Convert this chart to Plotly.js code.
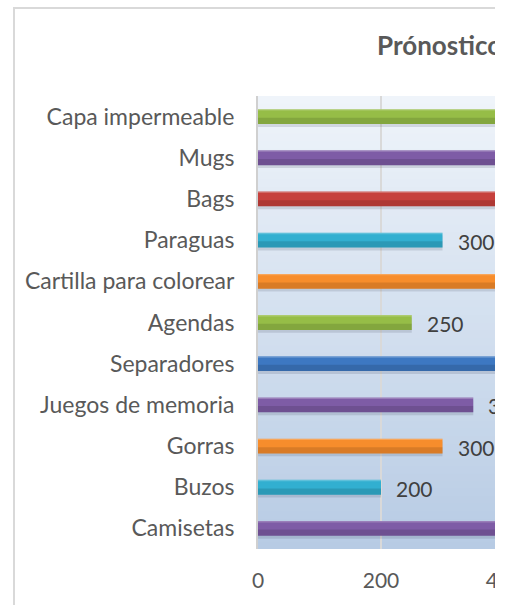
<!DOCTYPE html>
<html>
<head>
<meta charset="utf-8">
<script src="https://cdn.plot.ly/plotly-3.0.1.min.js"></script>
<style>
  html, body { margin: 0; padding: 0; background: #ffffff; }
  #clip { position: absolute; left: 0; top: 0; width: 495px; height: 605px; overflow: hidden; background: #ffffff; }
  #frame { position: absolute; left: 13px; top: 7px; width: 800px; height: 700px;
           border-left: 2px solid #D9D9D9; border-top: 2px solid #D9D9D9; }
  #chart { position: relative; width: 672px; height: 620px; }
</style>
</head>
<body>
<div id="clip"><div id="frame"><div id="chart"></div></div></div>
<script>
// ---- data (bottom to top, as drawn) ----
const categories = ["Camisetas", "Buzos", "Gorras", "Juegos de memoria", "Separadores",
                    "Agendas", "Cartilla para colorear", "Paraguas", "Bags", "Mugs", "Capa impermeable"];
const values = [500, 200, 300, 350, 500, 250, 450, 300, 450, 500, 450];
const barColors = ["#7E5CA6", "#32AFD0", "#F78D2C", "#7E5CA6", "#3D78C2",
                   "#96BD47", "#F78D2C", "#32AFD0", "#C6403C", "#7E5CA6", "#96BD47"];
const xTickValues = [0, 200, 400, 600];
const chartTitle = "Prónostico de ventas";

const FONT = "Lato, 'Open Sans', sans-serif";
const BW = 0.36;

// background gradient stripes for the plot area (style only)
const shapes = [];
const N = 60;
function mix(a, b, t) { return Math.round(a + (b - a) * t); }
const gTop = [239, 244, 250], gBot = [183, 203, 228];
for (let i = 0; i < N; i++) {
  const t = (i + 0.5) / N;
  const c = `rgb(${mix(gTop[0], gBot[0], t)},${mix(gTop[1], gBot[1], t)},${mix(gTop[2], gBot[2], t)})`;
  shapes.push({ type: 'rect', xref: 'paper', yref: 'paper', x0: 0, x1: 1,
    y0: Math.max(0, 1 - (i + 1) / N - 0.002), y1: 1 - i / N, fillcolor: c, line: { width: 0 }, layer: 'below' });
}

const shadow = {
  type: 'bar', orientation: 'h', x: values, y: categories,
  width: BW, offset: -BW / 2 - 0.07,
  marker: { color: 'rgba(60,70,90,0.16)', line: { width: 0 } },
  hoverinfo: 'skip', showlegend: false
};
const main = {
  type: 'bar', orientation: 'h', x: values, y: categories,
  width: BW, offset: -BW / 2,
  marker: { color: barColors, line: { width: 0 } },
  hoverinfo: 'skip', showlegend: false
};
const darkBand = {
  type: 'bar', orientation: 'h', x: values, y: categories,
  width: BW * 0.42, offset: -BW / 2,
  marker: { color: 'rgba(0,0,0,0.12)', line: { width: 0 } },
  hoverinfo: 'skip', showlegend: false
};
const topLight = {
  type: 'bar', orientation: 'h', x: values, y: categories,
  width: 0.035, offset: BW / 2 - 0.035,
  marker: { color: 'rgba(255,255,255,0.22)', line: { width: 0 } },
  hoverinfo: 'skip', showlegend: false
};

const annotations = values.map((v, i) => ({
  x: v, y: categories[i], xref: 'x', yref: 'y', text: String(v),
  showarrow: false, xanchor: 'left', yanchor: 'middle', xshift: 13, yshift: -1,
  font: { family: FONT, size: 21, color: '#404040' }
}));
annotations.push({
  text: chartTitle, xref: 'paper', yref: 'paper', x: (375 - 258) / 369, y: 1,
  xanchor: 'left', yanchor: 'bottom', yshift: 33, showarrow: false,
  font: { family: FONT, size: 26, color: '#595959', weight: 'bold' }
});

const layout = {
  width: 672, height: 620,
  margin: { l: 243, r: 60, t: 87, b: 80, pad: 0 },
  paper_bgcolor: 'rgba(0,0,0,0)', plot_bgcolor: 'rgba(0,0,0,0)',
  barmode: 'overlay',
  showlegend: false,
  xaxis: {
    range: [0, 600], tickvals: xTickValues, showgrid: true, gridcolor: '#D9D9D9', gridwidth: 1.5,
    zeroline: false, showline: false, ticks: '', ticklabelstandoff: 17,
    tickfont: { family: FONT, size: 21, color: '#595959' }, fixedrange: true
  },
  yaxis: {
    type: 'category', categoryorder: 'array', categoryarray: categories,
    range: [-0.5, categories.length - 0.5],
    showgrid: false, zeroline: false, showline: true, linecolor: '#D0D0D0', linewidth: 2,
    ticks: '', ticklabelstandoff: 17,
    tickfont: { family: FONT, size: 23, color: '#595959' }, fixedrange: true
  },
  shapes: shapes,
  annotations: annotations
};

Plotly.newPlot('chart', [shadow, main, darkBand, topLight], layout, { displayModeBar: false, staticPlot: true });
</script>
</body>
</html>
